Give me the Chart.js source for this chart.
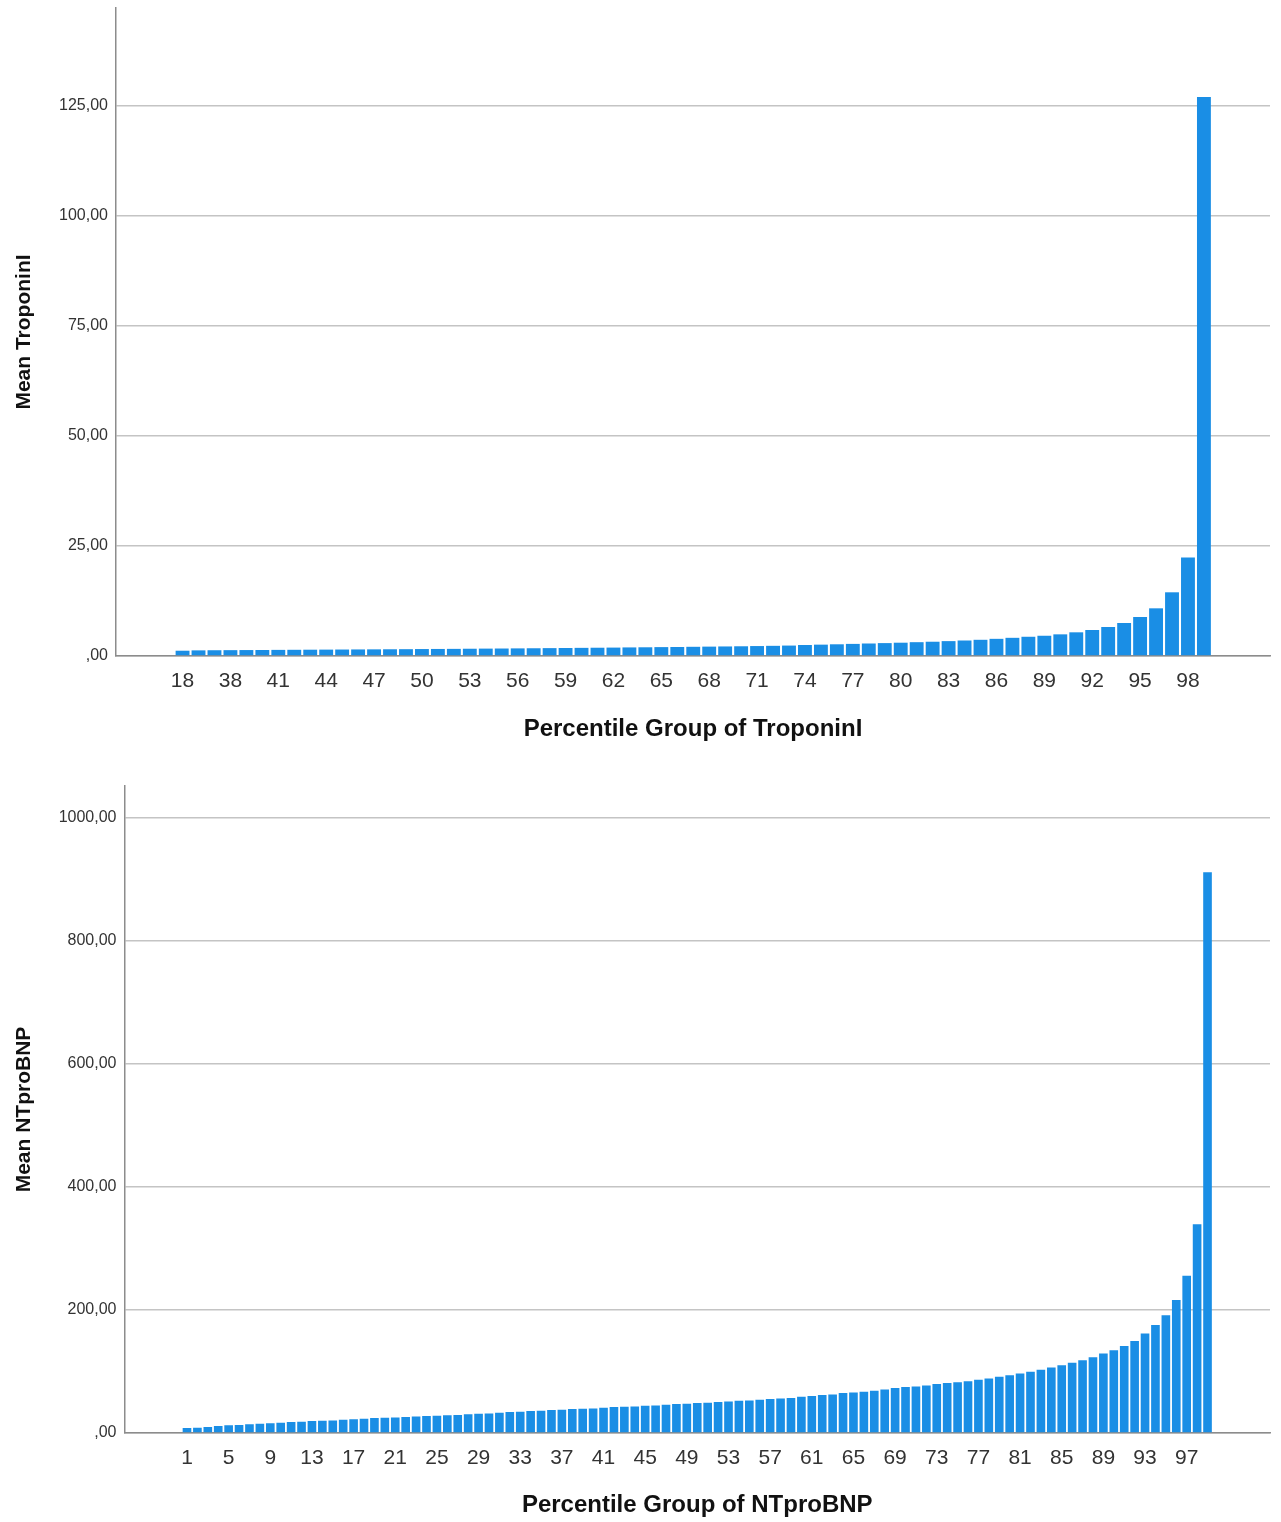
<!DOCTYPE html>
<html>
<head>
<meta charset="utf-8">
<title>Mean TroponinI / NTproBNP by percentile group</title>
<script src="https://cdn.jsdelivr.net/npm/chart.js@4.4.1/dist/chart.umd.min.js"></script>
<style>
    html, body { margin: 0; padding: 0; background: #fff; }
    canvas { display: block; }
</style>
</head>
<body>
<canvas id="troponinChart" width="1281" height="760"></canvas>
<canvas id="ntprobnpChart" width="1281" height="762"></canvas>
<script>
// Percentile groups of TroponinI (groups 19-35 merged into 18 by ties)
const troponinGroups = [18, 36, 37, 38, 39, 40, 41, 42, 43, 44, 45, 46, 47, 48, 49, 50, 51, 52, 53, 54,
    55, 56, 57, 58, 59, 60, 61, 62, 63, 64, 65, 66, 67, 68, 69, 70, 71, 72, 73, 74, 75, 76, 77, 78, 79,
    80, 81, 82, 83, 84, 85, 86, 87, 88, 89, 90, 91, 92, 93, 94, 95, 96, 97, 98, 99];
const troponinMeans = [1.20, 1.28, 1.31, 1.33, 1.35, 1.37, 1.39, 1.41, 1.43, 1.45, 1.47, 1.49, 1.51, 1.53,
    1.55, 1.58, 1.60, 1.62, 1.65, 1.68, 1.70, 1.73, 1.76, 1.79, 1.82, 1.85, 1.88, 1.91, 1.95, 1.98, 2.02,
    2.05, 2.09, 2.13, 2.17, 2.21, 2.26, 2.31, 2.37, 2.50, 2.58, 2.66, 2.75, 2.84, 2.93, 3.02, 3.14, 3.24,
    3.38, 3.52, 3.68, 3.90, 4.13, 4.37, 4.60, 4.92, 5.38, 5.91, 6.59, 7.50, 8.86, 10.83, 14.47, 22.35, 127.0];
const troponinTickStep = 3;

// Percentile groups of NTproBNP
const ntprobnpGroups = [1, 2, 3, 4, 5, 6, 7, 8, 9, 10, 11, 12, 13, 14, 15, 16, 17, 18, 19, 20, 21, 22, 23,
    24, 25, 26, 27, 28, 29, 30, 31, 32, 33, 34, 35, 36, 37, 38, 39, 40, 41, 42, 43, 44, 45, 46, 47, 48, 49,
    50, 51, 52, 53, 54, 55, 56, 57, 58, 59, 60, 61, 62, 63, 64, 65, 66, 67, 68, 69, 70, 71, 72, 73, 74, 75,
    76, 77, 78, 79, 80, 81, 82, 83, 84, 85, 86, 87, 88, 89, 90, 91, 92, 93, 94, 95, 96, 97, 98, 99];
const ntprobnpMeans = [8.1, 8.6, 9.7, 11.4, 12.4, 13.0, 14.1, 15.1, 15.7, 16.8,
    17.8, 18.4, 19.5, 20.0, 20.5, 21.6, 22.2, 23.2, 24.3, 24.9,
    25.4, 25.9, 27.0, 27.6, 28.1, 28.7, 29.2, 30.3, 31.3, 31.9,
    33.0, 34.1, 34.6, 35.7, 36.2, 37.3, 37.8, 38.9, 39.4, 40.0,
    41.1, 42.2, 42.7, 43.2, 44.3, 44.9, 45.9, 47.0, 47.6, 48.6,
    49.2, 50.3, 51.4, 52.4, 53.0, 54.1, 55.1, 56.2, 57.0, 58.9,
    60.0, 61.6, 62.7, 64.9, 65.9, 67.0, 68.6, 70.8, 73.0, 74.6,
    75.7, 77.3, 79.5, 81.1, 82.7, 84.3, 86.5, 88.6, 91.3, 94.0,
    96.8, 99.5, 102.7, 106.5, 110.3, 114.1, 118.4, 123.2, 129.2, 134.6,
    141.6, 149.7, 161.6, 175.7, 191.3, 216.2, 255.7, 339.4, 911.8];
const ntprobnpTickStep = 4;

const barBlue = '#1a8ee5';
const family = 'Arial, "Liberation Sans", sans-serif';

// SPSS style numbers with comma decimals: ",00", "25,00" ...
function spssNumber(value) {
    if (value === 0) return ',00';
    return value.toFixed(2).replace('.', ',');
}

function createChart(id, cfg) {
    const ctx = document.getElementById(id).getContext('2d');
    const points = cfg.means.map((v, i) => ({ x: i, y: v }));
    const tickValues = cfg.groups.map((g, i) => i).filter(i => i % cfg.tickStep === 0);

    return new Chart(ctx, {
        type: 'bar',
        data: {
            datasets: [{
                data: points,
                backgroundColor: barBlue,
                borderWidth: 0,
                barPercentage: cfg.barPercentage,
                categoryPercentage: 1
            }]
        },
        options: {
            responsive: false,
            animation: false,
            layout: { padding: cfg.padding },
            plugins: {
                legend: { display: false },
                tooltip: { enabled: false }
            },
            scales: {
                x: {
                    type: 'linear',
                    offset: false,
                    min: cfg.xMin,
                    max: cfg.xMax,
                    grid: { display: false },
                    border: { display: true, color: '#8c8c8c', width: 1.5 },
                    afterBuildTicks: (scale) => {
                        scale.ticks = tickValues.map(v => ({ value: v }));
                    },
                    afterFit: (scale) => { scale.height = cfg.xAxisHeight; },
                    ticks: {
                        autoSkip: false,
                        maxRotation: 0,
                        minRotation: 0,
                        padding: 5,
                        color: '#333',
                        font: { family: family, size: 21 },
                        callback: (v) => cfg.groups[v]
                    },
                    title: {
                        display: true,
                        text: cfg.xTitle,
                        color: '#111',
                        font: { family: family, size: 24, weight: 'bold' },
                        padding: { top: 0, bottom: 0 }
                    }
                },
                y: {
                    min: 0,
                    max: cfg.yMax,
                    grid: { color: '#c4c4c4', lineWidth: 1.5, drawTicks: false },
                    border: { display: true, color: '#8c8c8c', width: 1.5 },
                    afterFit: (scale) => {
                        scale.width = cfg.yAxisWidth;
                        // the layout padding alone decides where the plot starts
                        scale.paddingTop = 0;
                        scale.paddingBottom = 0;
                    },
                    ticks: {
                        stepSize: cfg.yStep,
                        includeBounds: false,
                        padding: 8,
                        color: '#333',
                        font: { family: family, size: 16 },
                        callback: (v) => spssNumber(v)
                    },
                    title: {
                        display: true,
                        text: cfg.yTitle,
                        color: '#111',
                        font: { family: family, size: 21, weight: 'bold' },
                        padding: { top: 4, bottom: 0 }
                    }
                }
            }
        }
    });
}

createChart('troponinChart', {
    groups: troponinGroups,
    means: troponinMeans,
    tickStep: troponinTickStep,
    xMin: -4.17,
    xMax: 68.14,
    yMax: 147.2,
    yStep: 25,
    barPercentage: 0.87,
    padding: { left: 8, top: 8, right: 11, bottom: 16 },
    yAxisWidth: 108,
    xAxisHeight: 88,
    xTitle: 'Percentile Group of TroponinI',
    yTitle: 'Mean TroponinI'
});

createChart('ntprobnpChart', {
    groups: ntprobnpGroups,
    means: ntprobnpMeans,
    tickStep: ntprobnpTickStep,
    xMin: -6.0,
    xMax: 104.0,
    yMax: 1052,
    yStep: 200,
    barPercentage: 0.83,
    padding: { left: 8, top: 26, right: 11, bottom: 2 },
    yAxisWidth: 116.5,
    xAxisHeight: 87,
    xTitle: 'Percentile Group of NTproBNP',
    yTitle: 'Mean NTproBNP'
});
</script>
</body>
</html>
